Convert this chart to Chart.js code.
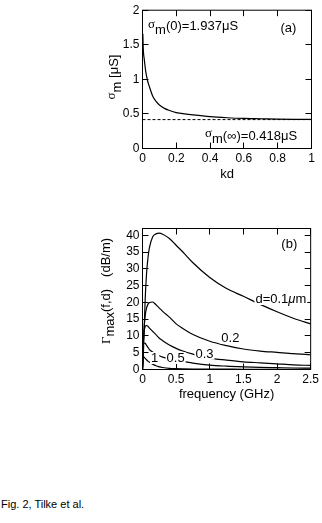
<!DOCTYPE html>
<html>
<head>
<meta charset="utf-8">
<script src="https://cdn.jsdelivr.net/npm/chart.js@4"></script>
<style>
  html, body { margin: 0; padding: 0; background: #fff; }
  body { width: 322px; height: 523px; position: relative; overflow: hidden; }
  .panel { position: absolute; left: 0; width: 322px; }
  #panelA { top: 0; height: 190px; }
  #panelB { top: 200px; height: 210px; }
  #caption {
    position: absolute; left: 1px; top: 498px; color: #000;
    font: 11px "Liberation Sans", Arial, sans-serif; line-height: 13px;
  }
</style>
</head>
<body>
<div class="panel" id="panelA"><canvas id="chartA"></canvas></div>
<div class="panel" id="panelB"><canvas id="chartB"></canvas></div>
<div id="caption">Fig. 2, Tilke et al.</div>
<script>
// (a) membrane conductance vs kd
const kd = [0.002, 0.005, 0.01, 0.02, 0.03, 0.04, 0.06, 0.08, 0.1, 0.13, 0.16, 0.2,
  0.25, 0.3, 0.4, 0.5, 0.6, 0.7, 0.8, 0.9, 1.0];
const sigmaM = [1.66, 1.42, 1.3, 1.1, 0.98, 0.9, 0.76, 0.68, 0.63, 0.58, 0.55, 0.52,
  0.5, 0.485, 0.46, 0.445, 0.435, 0.43, 0.425, 0.422, 0.42];
const sigmaZero = 1.937;
const sigmaInf = 0.418;

// (b) gain vs frequency for several thicknesses d (um)
const freq = [0, 0.01, 0.02, 0.04, 0.06, 0.08, 0.1, 0.15, 0.2, 0.25, 0.3, 0.4, 0.5,
  0.6, 0.75, 1.0, 1.25, 1.5, 1.75, 2.0, 2.25, 2.5];
const gammaD01 = [0, 3, 9, 21, 28.5, 33, 36, 39.5, 40.4, 40.6, 40.3, 39, 37,
  35, 31.8, 27.4, 24.1, 21.8, 19.4, 17.2, 15.2, 13.6];
const gammaD02 = [0, 6, 11, 16, 18.3, 19.4, 19.9, 20.1, 19.3, 18.3, 17.3, 15.6, 13.6,
  12.2, 10.4, 8.4, 7.1, 6.1, 5.5, 5.1, 4.7, 4.4];
const gammaD03 = [0, 7, 10.5, 12.8, 13.1, 12.9, 12.4, 11.4, 10.4, 9.3, 8.6, 7.3, 6.3,
  5.5, 4.6, 3.4, 2.8, 2.3, 2.0, 1.7, 1.4, 1.2];
const gammaD05 = [0, 6.8, 7.9, 7.8, 7.2, 6.6, 6.0, 5.2, 4.6, 4.1, 3.7, 3.1, 2.7,
  2.4, 1.9, 1.3, 1.0, 0.8, 0.65, 0.55, 0.45, 0.4];
const gammaD1 = [0, 3.8, 3.7, 3.3, 2.9, 2.5, 2.2, 1.6, 1.1, 0.8, 0.6, 0.35, 0.25,
  0.2, 0.15, 0.12, 0.1, 0.08, 0.07, 0.06, 0.05, 0.05];

const SANS = '"Liberation Sans", Arial, sans-serif';
const SERIF = '"Liberation Serif", "Times New Roman", serif';

const pts = (xs, ys) => xs.map((x, i) => ({ x: x, y: ys[i] }));

function setFont(ctx, p) {
  ctx.font = (p.italic ? 'italic ' : '') + (p.size || 13) + 'px ' + (p.serif ? SERIF : SANS);
}

function richWidth(ctx, parts) {
  let w = 0;
  parts.forEach(p => { setFont(ctx, p); w += (p.gap || 0) + ctx.measureText(p.t).width; });
  return w;
}

function drawRich(ctx, parts, x, y) {
  let cx = x;
  parts.forEach(p => {
    setFont(ctx, p);
    cx += p.gap || 0;
    ctx.fillText(p.t, cx, y + (p.dy || 0));
    cx += ctx.measureText(p.t).width;
  });
}

// box, inward ticks on all four sides, titles and in-plot labels
const framePlugin = {
  id: 'frame',
  afterDatasetsDraw(chart, args, opts) {
    const { ctx, chartArea: a, scales: { x, y } } = chart;
    ctx.save();
    ctx.strokeStyle = '#000';
    ctx.lineWidth = 1;
    ctx.strokeRect(a.left, a.top, a.right - a.left, a.bottom - a.top);
    const len = 6;
    ctx.beginPath();
    x.ticks.forEach(t => {
      const px = Math.round(x.getPixelForValue(t.value) - 0.5) + 0.5;
      ctx.moveTo(px, a.bottom); ctx.lineTo(px, a.bottom - len);
      ctx.moveTo(px, a.top); ctx.lineTo(px, a.top + len);
    });
    y.ticks.forEach(t => {
      const py = Math.round(y.getPixelForValue(t.value) - 0.5) + 0.5;
      ctx.moveTo(a.left, py); ctx.lineTo(a.left + len, py);
      ctx.moveTo(a.right, py); ctx.lineTo(a.right - len, py);
    });
    ctx.stroke();

    ctx.fillStyle = '#000';
    ctx.textBaseline = 'alphabetic';
    ctx.textAlign = 'left';

    (opts.labels || []).forEach(l => {
      const lx = x.getPixelForValue(l.x);
      const ly = y.getPixelForValue(l.y);
      if (l.bg) {
        const w = richWidth(ctx, l.parts);
        ctx.fillStyle = '#fff';
        ctx.fillRect(lx - 1, ly - 10, w + 2, 12);
        ctx.fillStyle = '#000';
      }
      drawRich(ctx, l.parts, lx, ly);
    });

    // x title under the axis
    const xw = richWidth(ctx, opts.xTitle);
    drawRich(ctx, opts.xTitle, (a.left + a.right) / 2 - xw / 2, a.bottom + opts.xTitleOffset);

    // y title, rotated
    ctx.save();
    ctx.translate(opts.yTitleX, opts.yTitleY);
    ctx.rotate(-Math.PI / 2);
    const yw = richWidth(ctx, opts.yTitle);
    drawRich(ctx, opts.yTitle, -yw / 2, 0);
    ctx.restore();

    ctx.restore();
  }
};

Chart.defaults.font.family = SANS;
Chart.defaults.font.size = 12;
Chart.defaults.color = '#000';

const axis = (min, max, step, size) => ({
  type: 'linear',
  min: min,
  max: max,
  grid: { display: false, drawTicks: false },
  border: { display: false },
  ticks: {
    stepSize: step,
    includeBounds: false,
    autoSkip: false,
    maxRotation: 0,
    padding: 3,
    color: '#000',
    callback: v => String(Number(v.toFixed(3)))
  },
  afterFit: size
});

const chartA = new Chart(document.getElementById('chartA'), {
  type: 'line',
  data: {
    datasets: [
      {
        data: pts(kd, sigmaM),
        borderColor: '#000',
        borderWidth: 1.2,
        pointRadius: 0,
        cubicInterpolationMode: 'monotone'
      },
      {
        data: pts([0, 1], [sigmaInf, sigmaInf]),
        borderColor: '#000',
        borderWidth: 1,
        borderDash: [3, 2],
        pointRadius: 0
      }
    ]
  },
  options: {
    responsive: true,
    maintainAspectRatio: false,
    animation: false,
    layout: { padding: { left: 100.5, right: 10.5, top: 6.5, bottom: 0 } },
    scales: {
      x: axis(0, 1, 0.2, s => { s.height = 41.5; }),
      y: axis(0, 2, 0.5, s => { s.width = 42; })
    },
    plugins: {
      legend: { display: false },
      tooltip: { enabled: false },
      frame: {
        labels: [
          { x: 0.033, y: 1.71, parts: [{ t: 'σ', serif: true, dy: -2.5 }, { t: 'm', dy: 3.5 }, { t: '(0)=' + sigmaZero + 'μS' }] },
          { x: 0.816, y: 1.69, parts: [{ t: '(a)' }] },
          { x: 0.37, y: 0.13, parts: [{ t: 'σ', serif: true, dy: -2.5 }, { t: 'm', dy: 3.5 }, { t: '(∞)=' + sigmaInf + 'μS' }] }
        ],
        xTitle: [{ t: 'kd' }],
        xTitleOffset: 29.5,
        yTitle: [{ t: 'σ', serif: true, dy: -3 }, { t: 'm', dy: 3 }, { t: ' [μS]' }],
        yTitleX: 118,
        yTitleY: 77
      }
    }
  },
  plugins: [framePlugin]
});

const curve = (ys) => ({
  data: pts(freq, ys),
  borderColor: '#000',
  borderWidth: 1.2,
  pointRadius: 0,
  cubicInterpolationMode: 'monotone'
});

const chartB = new Chart(document.getElementById('chartB'), {
  type: 'line',
  data: {
    datasets: [curve(gammaD01), curve(gammaD02), curve(gammaD03), curve(gammaD05), curve(gammaD1)]
  },
  options: {
    responsive: true,
    maintainAspectRatio: false,
    animation: false,
    layout: { padding: { left: 100.5, right: 10.5, top: 28.5, bottom: 0 } },
    scales: {
      x: axis(0, 2.5, 0.5, s => { s.height = 40.5; }),
      y: axis(0, 42, 5, s => { s.width = 42; })
    },
    plugins: {
      legend: { display: false },
      tooltip: { enabled: false },
      frame: {
        labels: [
          { x: 2.064, y: 36.2, parts: [{ t: '(b)' }] },
          { x: 1.679, y: 19.8, bg: true, parts: [{ t: 'd=0.1' }, { t: 'μ', italic: true }, { t: 'm' }] },
          { x: 1.172, y: 8.2, bg: true, parts: [{ t: '0.2' }] },
          { x: 0.787, y: 3.57, bg: true, parts: [{ t: '0.3' }] },
          { x: 0.358, y: 2.23, bg: true, parts: [{ t: '0.5' }] },
          { x: 0.126, y: 2.23, bg: true, parts: [{ t: '1' }] }
        ],
        xTitle: [{ t: 'frequency (GHz)' }],
        xTitleOffset: 28.5,
        yTitle: [{ t: 'Γ', serif: true }, { t: 'max', dy: 4 }, { t: '(f,d)' }, { t: '(dB/m)', gap: 12 }],
        yTitleX: 110,
        yTitleY: 91
      }
    }
  },
  plugins: [framePlugin]
});
</script>
</body>
</html>
